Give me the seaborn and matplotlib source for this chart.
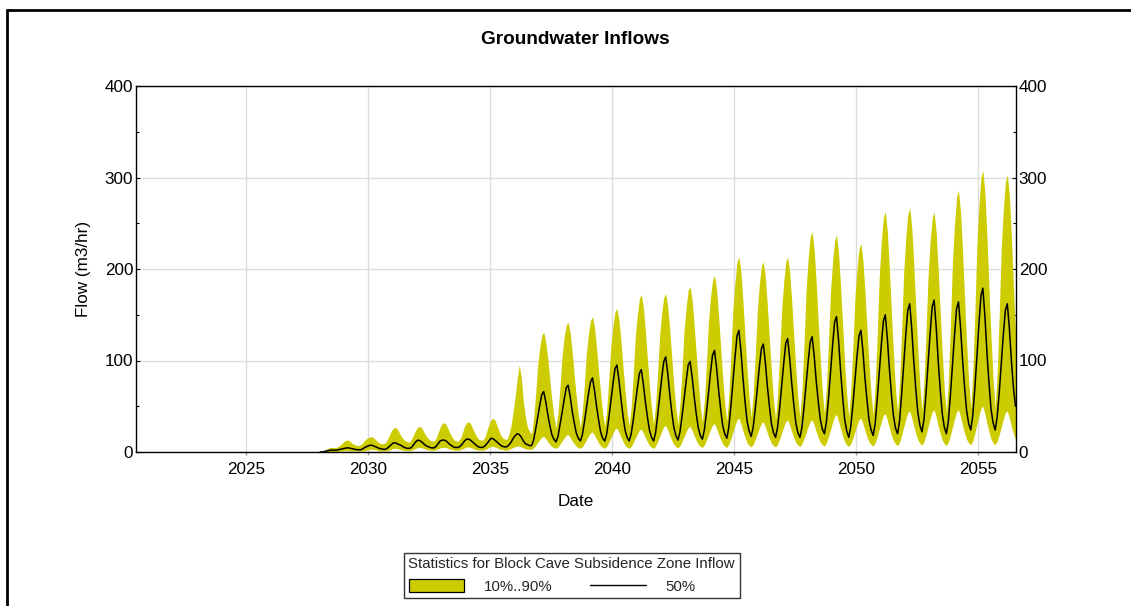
import pandas as pd
import matplotlib
matplotlib.use("Agg")
import matplotlib.pyplot as plt
import matplotlib.dates as mdates
from matplotlib.lines import Line2D
from matplotlib.patches import Patch
from matplotlib.ticker import MultipleLocator
import seaborn as sns

# ---- text ---------------------------------------------------------------
TITLE = "Groundwater Inflows"
X_LABEL = "Date"
Y_LABEL = "Flow (m3/hr)"
LEGEND_TITLE = "Statistics for Block Cave Subsidence Zone Inflow"
BAND_LABEL = "10%..90%"
MEDIAN_LABEL = "50%"

# ---- axes ---------------------------------------------------------------
X_TICK_YEARS = [2025, 2030, 2035, 2040, 2045, 2050, 2055]
Y_TICKS = [0, 100, 200, 300, 400]
X_START = "2020-06-29"
X_END = "2056-07-23"

# ---- monthly flow statistics (m3/hr), one row per year, Jan..Dec ---------
FIRST_MONTH = "2028-01"

p50_flow = [
    0, 0, 0.5, 1, 1.5, 2, 2, 2, 2, 2.5, 3, 3.5,              # 2028
    4, 4.5, 4.5, 4, 3.5, 3, 2.5, 2.5, 2.5, 3.5, 5, 6,        # 2029
    7, 7.5, 7, 6, 5, 4, 3.5, 3, 3, 4, 6, 8,                  # 2030
    10, 10, 9, 8, 7, 5.5, 4.5, 4, 4, 5, 8, 11,               # 2031
    13, 12.5, 11, 9, 7, 6, 5, 4.5, 4.5, 6, 9, 12,            # 2032
    13, 13, 12, 10, 8, 6.5, 5, 5, 5, 6.5, 9, 12,             # 2033
    14, 14, 13, 11, 9, 7, 5.5, 5, 5, 6.5, 9, 12,             # 2034
    15, 14.5, 13, 11, 9, 7, 6, 5.5, 6, 8, 11, 15,            # 2035
    18, 20, 19, 16, 12, 9, 8, 7, 7, 13, 25, 38,              # 2036
    51, 63, 66, 55, 41, 29, 19, 14, 11, 17, 30, 43,          # 2037
    57, 70, 73, 61, 45, 32, 21, 15, 12, 19, 33, 48,          # 2038
    64, 77, 81, 67, 50, 35, 22, 15, 12, 20, 37, 55,          # 2039
    74, 91, 95, 78, 58, 39, 24, 16, 12, 20, 35, 52,          # 2040
    70, 86, 90, 74, 55, 38, 24, 16, 12, 21, 40, 60,          # 2041
    81, 99, 104, 86, 63, 43, 27, 18, 13, 22, 39, 58,         # 2042
    77, 95, 99, 82, 61, 42, 27, 18, 14, 24, 43, 64,          # 2043
    87, 106, 111, 92, 68, 47, 29, 20, 15, 27, 50, 76,        # 2044
    103, 127, 133, 110, 81, 55, 34, 23, 17, 27, 47, 69,      # 2045
    93, 113, 118, 98, 72, 50, 31, 21, 16, 27, 48, 72,        # 2046
    97, 119, 124, 102, 75, 52, 32, 21, 16, 27, 49, 73,       # 2047
    98, 120, 126, 105, 78, 55, 36, 25, 20, 33, 58, 87,       # 2048
    116, 142, 148, 122, 89, 60, 36, 23, 16, 28, 51, 77,      # 2049
    104, 127, 133, 110, 81, 56, 35, 24, 18, 31, 58, 87,      # 2050
    117, 143, 150, 124, 92, 63, 40, 26, 20, 34, 63, 94,      # 2051
    127, 155, 162, 134, 99, 68, 43, 29, 22, 36, 65, 97,      # 2052
    130, 159, 166, 137, 100, 68, 42, 27, 20, 34, 63, 95,     # 2053
    128, 157, 164, 136, 101, 70, 45, 31, 24, 40, 70, 103,    # 2054
    140, 171, 179, 148, 109, 75, 47, 32, 24, 38, 65, 96,     # 2055
    128, 155, 162, 135, 100, 70, 50,                         # 2056
]

p90_flow = [
    0, 0.5, 1.5, 3, 4, 5, 5, 5, 5, 6, 8, 10,                 # 2028
    12, 13, 13, 11, 9, 8, 7, 7, 8, 10, 13, 15,               # 2029
    16, 17, 16, 14, 12, 10, 9, 9, 10, 13, 18, 23,            # 2030
    26, 27, 25, 21, 17, 14, 12, 11, 11, 14, 19, 24,          # 2031
    27, 28, 26, 22, 18, 15, 13, 12, 12, 15, 21, 27,          # 2032
    31, 32, 30, 25, 20, 16, 13, 12, 12, 15, 21, 28,          # 2033
    32, 33, 31, 26, 21, 17, 14, 13, 13, 16, 23, 30,          # 2034
    35, 37, 35, 29, 23, 18, 15, 14, 14, 20, 30, 45,          # 2035
    62, 82, 95, 80, 55, 38, 27, 22, 20, 37, 64, 95,          # 2036
    114, 128, 131, 120, 102, 78, 57, 39, 26, 43, 72, 105,    # 2037
    125, 139, 142, 130, 110, 84, 61, 41, 27, 45, 75, 109,    # 2038
    130, 144, 148, 136, 114, 88, 64, 42, 28, 47, 80, 116,    # 2039
    138, 153, 157, 144, 121, 92, 67, 43, 28, 50, 86, 126,    # 2040
    150, 168, 172, 158, 132, 101, 73, 47, 30, 52, 87, 128,   # 2041
    152, 169, 173, 159, 133, 102, 73, 47, 30, 53, 90, 133,   # 2042
    158, 177, 181, 166, 139, 107, 77, 50, 32, 56, 96, 142,   # 2043
    169, 188, 193, 177, 149, 114, 82, 53, 34, 61, 106, 156,  # 2044
    186, 208, 213, 196, 164, 126, 91, 59, 38, 64, 106, 154,  # 2045
    183, 203, 208, 191, 160, 122, 88, 57, 36, 63, 107, 156,  # 2046
    186, 208, 213, 196, 164, 126, 91, 59, 38, 68, 119, 176,  # 2047
    211, 235, 241, 221, 185, 142, 102, 66, 42, 71, 120, 175, # 2048
    208, 231, 237, 217, 181, 138, 98, 62, 38, 67, 114, 167,  # 2049
    200, 222, 228, 209, 175, 134, 96, 63, 40, 74, 129, 192,  # 2050
    230, 256, 263, 241, 201, 153, 108, 69, 42, 76, 132, 195, # 2051
    233, 260, 267, 245, 205, 156, 112, 72, 45, 78, 132, 193, # 2052
    230, 256, 262, 240, 200, 152, 108, 68, 42, 79, 140, 208, # 2053
    249, 279, 286, 262, 219, 167, 119, 77, 48, 87, 152, 225, # 2054
    269, 300, 308, 282, 235, 178, 126, 79, 48, 86, 150, 222, # 2055
    265, 295, 303, 280, 235, 180, 130,                       # 2056
]

p10_flow = [
    0, 0, 0, 0.2, 0.5, 0.5, 0.5, 0.5, 0.5, 0.5, 0.8, 1,      # 2028
    1.5, 1.5, 1.5, 1, 1, 1, 1, 1, 1, 1, 1.5, 2,              # 2029
    2.5, 3, 3, 2.5, 2, 1.5, 1, 1, 1, 1.5, 2, 3,              # 2030
    4, 4, 3.5, 3, 2.5, 2, 1.5, 1.5, 1.5, 2, 3, 4,            # 2031
    5, 5, 4.5, 4, 3, 2.5, 2, 2, 2, 2.5, 3.5, 4.5,            # 2032
    5, 5, 5, 4, 3, 2.5, 2, 2, 2, 2.5, 3.5, 4.5,              # 2033
    5.5, 5.5, 5, 4, 3, 2.5, 2, 2, 2, 2.5, 3.5, 5,            # 2034
    6, 6, 5.5, 4.5, 3.5, 3, 2.5, 2, 2, 3, 4, 5,              # 2035
    6, 6.5, 6.5, 5.5, 4.5, 3.5, 3, 3, 3, 4.4, 7.2, 10.3,     # 2036
    13.5, 16.3, 17, 14.4, 11.2, 8.3, 6, 4.7, 4, 5.5, 8.5, 12,        # 2037
    15.3, 18.3, 19, 16, 12.3, 9, 6.3, 4.8, 4, 5.8, 9.4, 13.4,        # 2038
    17.5, 21, 22, 18.4, 14, 10, 6.7, 5, 4, 6.2, 10.6, 15.6,          # 2039
    20.5, 25, 26, 21.6, 16, 11.3, 7.3, 5.1, 4, 6.1, 10.3, 15,        # 2040
    19.8, 24, 25, 20.8, 15.5, 11, 7.2, 5, 4, 6.5, 11.5, 17,          # 2041
    22.8, 27.8, 29, 24, 18, 12.6, 8.2, 5.7, 4.5, 6.9, 11.6, 16.7,    # 2042
    22, 26.8, 28, 23.4, 17.7, 12.6, 8.5, 6.2, 5, 7.6, 12.8, 18.5,    # 2043
    24.5, 29.7, 31, 25.8, 19.3, 13.6, 9, 6.3, 5, 8.2, 14.6, 21.6,    # 2044
    29, 35.4, 37, 30.7, 22.8, 15.9, 10.2, 7.1, 5.5, 8.3, 13.8, 19.8, # 2045
    26, 31.6, 33, 27.5, 20.6, 14.6, 9.6, 6.9, 5.5, 8.5, 14.4, 20.8,  # 2046
    27.6, 33.5, 35, 29.2, 22, 15.6, 10.4, 7.5, 6, 8.9, 14.7, 21,     # 2047
    27.8, 33.6, 35, 29.3, 22.2, 15.9, 10.8, 7.9, 6.5, 10, 16.9, 24.4,    # 2048
    32.4, 39.3, 41, 34, 25.3, 17.6, 11.3, 7.8, 6, 9.1, 15.3, 22,         # 2049
    29.3, 35.5, 37, 30.9, 23.3, 16.6, 11, 8, 6.5, 10, 17.2, 25,          # 2050
    33.1, 40.2, 42, 35, 26.3, 18.6, 12.3, 8.8, 7, 10.8, 18.4, 26.8,      # 2051
    35.5, 43.1, 45, 37.5, 28.1, 19.9, 13.1, 9.4, 7.5, 11.4, 19, 27.5,    # 2052
    36.4, 44, 46, 38.2, 28.5, 19.9, 12.9, 9, 7, 10.9, 18.7, 27.3,        # 2053
    36.3, 44, 46, 38.4, 28.9, 20.5, 13.7, 9.9, 8, 12.2, 20.6, 29.8,      # 2054
    39.5, 47.9, 50, 41.6, 31.1, 21.9, 14.3, 10.1, 8, 11.7, 19.1, 27.2,   # 2055
    35.8, 43.2, 45, 37, 28, 20, 14,                                      # 2056
]

# ---- build the frame ------------------------------------------------------
dates = pd.date_range(FIRST_MONTH + "-01", periods=len(p50_flow), freq="MS") + pd.Timedelta(days=14)
df = pd.DataFrame({"date": dates, "p10": p10_flow, "p50": p50_flow, "p90": p90_flow})

BAND_COLOR = "#cccc00"
FS_TICK = 12.3
FS_LEG = 10.8

sns.set_theme(style="white")
plt.rcParams["font.family"] = ["Liberation Sans", "DejaVu Sans"]

W, H = 1131, 606
fig = plt.figure(figsize=(W / 100, H / 100), dpi=100)
fig.patch.set_facecolor("white")
ax = fig.add_axes([136 / W, 1 - 452 / H, 880 / W, 366 / H])

# 10%..90% band and the median
ax.fill_between(df["date"], df["p10"], df["p90"], color=BAND_COLOR, lw=0, zorder=2)
sns.lineplot(data=df, x="date", y="p50", color="black", lw=1.1, ax=ax,
             legend=False, zorder=3)

# axes ranges and ticks
ax.set_xlim(pd.Timestamp(X_START), pd.Timestamp(X_END))
ax.set_ylim(Y_TICKS[0], Y_TICKS[-1])
ax.set_xticks([pd.Timestamp(f"{y}-01-01") for y in X_TICK_YEARS])
ax.xaxis.set_major_formatter(mdates.DateFormatter("%Y"))
ax.set_yticks(Y_TICKS)
ax.yaxis.set_minor_locator(MultipleLocator(50))

ax.grid(True, which="major", color="#dcdcdc", lw=1, zorder=0)
ax.set_axisbelow(True)

ax.tick_params(axis="y", which="both", direction="in", left=True, right=True,
               labelleft=True, labelright=True, labelsize=FS_TICK,
               colors="black", pad=2)
ax.tick_params(axis="y", which="major", length=3, width=0.8)
ax.tick_params(axis="y", which="minor", length=2.5, width=0.8)
ax.tick_params(axis="x", which="major", direction="out", bottom=True,
               length=2.5, width=1, color="#999999", labelcolor="black",
               labelsize=FS_TICK, pad=5)

for sp in ax.spines.values():
    sp.set_color("black")
    sp.set_linewidth(1)
    sp.set_visible(True)

ax.set_xlabel(X_LABEL, fontsize=FS_TICK, color="black")
ax.set_ylabel(Y_LABEL, fontsize=FS_TICK, color="black")
ax.xaxis.set_label_coords(0.5, (452 - 494) / 366)
ax.yaxis.set_label_coords((91 - 136) / 880, 0.5)

fig.text(575 / W, 1 - 40 / H, TITLE, ha="center", va="center",
         fontsize=13.7, fontweight="bold", color="black")

# legend below the plot
handles = [Patch(facecolor=BAND_COLOR, edgecolor="black", lw=0.9),
           Line2D([], [], color="black", lw=1)]
leg = fig.legend(handles=handles, labels=[BAND_LABEL, MEDIAN_LABEL],
                 title=LEGEND_TITLE, ncol=2, loc="upper left",
                 bbox_to_anchor=(404 / W, 1 - 553 / H), borderaxespad=0,
                 fontsize=FS_LEG, title_fontsize=FS_LEG, frameon=True,
                 fancybox=False, framealpha=1, edgecolor="#333333",
                 handlelength=3.73, handleheight=0.93, handletextpad=1.27,
                 columnspacing=2.53, borderpad=0.3, alignment="left")
leg.get_frame().set_linewidth(1.0)

# page frame lines along top and left
fig.add_artist(Line2D([7 / W, 1], [1 - 10 / H, 1 - 10 / H],
                      transform=fig.transFigure, color="black", lw=2))
fig.add_artist(Line2D([7 / W, 7 / W], [0, 1 - 10 / H],
                      transform=fig.transFigure, color="black", lw=2))

fig.savefig("out.png", dpi=100, facecolor="white")
